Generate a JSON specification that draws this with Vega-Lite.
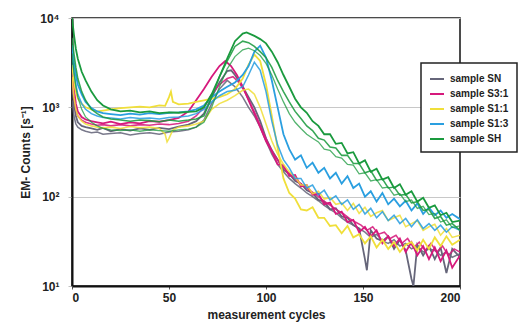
{
"$schema":"https://vega.github.io/schema/vega-lite/v6.json",
"width":388,"height":268,
"autosize":{"type":"none"},
"padding":{"left":72,"top":18,"right":72,"bottom":45},
"background":"white",
"config":{"view":{"stroke":"#111","strokeWidth":1.5},
"font":"Liberation Sans",
"axis":{"labelFont":"Liberation Sans","labelFontWeight":"bold","labelFontSize":12,"labelColor":"#222","titleFont":"Liberation Sans","titleFontWeight":"bold","titleFontSize":12,"titleColor":"#222","domainColor":"#111","domainWidth":2},
"legend":{"orient":"none","legendX":349,"legendY":45,"strokeColor":"#222","strokeWidth":1.5,"fillColor":"white","padding":8,"labelFont":"Liberation Sans","labelFontWeight":"bold","labelFontSize":10,"labelColor":"#222","symbolType":"stroke","symbolSize":196,"symbolStrokeWidth":2,"rowPadding":2,"labelOffset":5}},
"data":{"values":[
{"sample":"SN","rep":1,"cycle":0,"count":1800},{"sample":"SN","rep":1,"cycle":1,"count":1100},{"sample":"SN","rep":1,"cycle":2,"count":800},{"sample":"SN","rep":1,"cycle":3,"count":680},{"sample":"SN","rep":1,"cycle":5,"count":620},{"sample":"SN","rep":1,"cycle":7,"count":600},{"sample":"SN","rep":1,"cycle":10,"count":580},{"sample":"SN","rep":1,"cycle":13,"count":560},{"sample":"SN","rep":1,"cycle":16,"count":590},{"sample":"SN","rep":1,"cycle":20,"count":540},{"sample":"SN","rep":1,"cycle":25,"count":570},{"sample":"SN","rep":1,"cycle":30,"count":550},{"sample":"SN","rep":1,"cycle":35,"count":580},{"sample":"SN","rep":1,"cycle":40,"count":560},{"sample":"SN","rep":1,"cycle":45,"count":590},{"sample":"SN","rep":1,"cycle":50,"count":570},{"sample":"SN","rep":1,"cycle":55,"count":610},{"sample":"SN","rep":1,"cycle":60,"count":640},{"sample":"SN","rep":1,"cycle":64,"count":700},{"sample":"SN","rep":1,"cycle":68,"count":850},{"sample":"SN","rep":1,"cycle":72,"count":1300},{"sample":"SN","rep":1,"cycle":76,"count":1900},{"sample":"SN","rep":1,"cycle":80,"count":2550},{"sample":"SN","rep":1,"cycle":82,"count":2600},{"sample":"SN","rep":1,"cycle":84,"count":2300},{"sample":"SN","rep":1,"cycle":88,"count":1700},{"sample":"SN","rep":1,"cycle":91,"count":1300},{"sample":"SN","rep":1,"cycle":94,"count":1000},{"sample":"SN","rep":1,"cycle":97,"count":700},{"sample":"SN","rep":1,"cycle":100,"count":450},{"sample":"SN","rep":1,"cycle":103,"count":330},{"sample":"SN","rep":1,"cycle":106,"count":260},{"sample":"SN","rep":1,"cycle":109,"count":200},{"sample":"SN","rep":1,"cycle":112,"count":180},{"sample":"SN","rep":1,"cycle":115,"count":150},{"sample":"SN","rep":1,"cycle":118,"count":140},{"sample":"SN","rep":1,"cycle":121,"count":118},{"sample":"SN","rep":1,"cycle":124,"count":110},{"sample":"SN","rep":1,"cycle":127,"count":92},{"sample":"SN","rep":1,"cycle":130,"count":88},{"sample":"SN","rep":1,"cycle":133,"count":72},{"sample":"SN","rep":1,"cycle":136,"count":74},{"sample":"SN","rep":1,"cycle":139,"count":60},{"sample":"SN","rep":1,"cycle":142,"count":58},{"sample":"SN","rep":1,"cycle":145,"count":48},{"sample":"SN","rep":1,"cycle":148,"count":44},{"sample":"SN","rep":1,"cycle":151,"count":20},{"sample":"SN","rep":1,"cycle":152,"count":15},{"sample":"SN","rep":1,"cycle":154,"count":42},{"sample":"SN","rep":1,"cycle":157,"count":34},{"sample":"SN","rep":1,"cycle":160,"count":32},{"sample":"SN","rep":1,"cycle":163,"count":36},{"sample":"SN","rep":1,"cycle":166,"count":26},{"sample":"SN","rep":1,"cycle":169,"count":33},{"sample":"SN","rep":1,"cycle":172,"count":25},{"sample":"SN","rep":1,"cycle":175,"count":12},{"sample":"SN","rep":1,"cycle":176,"count":10},{"sample":"SN","rep":1,"cycle":178,"count":29},{"sample":"SN","rep":1,"cycle":181,"count":22},{"sample":"SN","rep":1,"cycle":184,"count":28},{"sample":"SN","rep":1,"cycle":187,"count":20},{"sample":"SN","rep":1,"cycle":190,"count":27},{"sample":"SN","rep":1,"cycle":193,"count":14},{"sample":"SN","rep":1,"cycle":196,"count":26},{"sample":"SN","rep":1,"cycle":200,"count":21},
{"sample":"SN","rep":2,"cycle":0,"count":1200},{"sample":"SN","rep":2,"cycle":1,"count":800},{"sample":"SN","rep":2,"cycle":2,"count":650},{"sample":"SN","rep":2,"cycle":3,"count":600},{"sample":"SN","rep":2,"cycle":5,"count":560},{"sample":"SN","rep":2,"cycle":7,"count":540},{"sample":"SN","rep":2,"cycle":10,"count":520},{"sample":"SN","rep":2,"cycle":13,"count":530},{"sample":"SN","rep":2,"cycle":16,"count":500},{"sample":"SN","rep":2,"cycle":20,"count":510},{"sample":"SN","rep":2,"cycle":25,"count":520},{"sample":"SN","rep":2,"cycle":30,"count":490},{"sample":"SN","rep":2,"cycle":35,"count":510},{"sample":"SN","rep":2,"cycle":40,"count":520},{"sample":"SN","rep":2,"cycle":45,"count":500},{"sample":"SN","rep":2,"cycle":50,"count":530},{"sample":"SN","rep":2,"cycle":55,"count":540},{"sample":"SN","rep":2,"cycle":60,"count":560},{"sample":"SN","rep":2,"cycle":64,"count":600},{"sample":"SN","rep":2,"cycle":68,"count":720},{"sample":"SN","rep":2,"cycle":72,"count":1100},{"sample":"SN","rep":2,"cycle":76,"count":1600},{"sample":"SN","rep":2,"cycle":80,"count":2000},{"sample":"SN","rep":2,"cycle":84,"count":1700},{"sample":"SN","rep":2,"cycle":88,"count":1300},{"sample":"SN","rep":2,"cycle":91,"count":1000},{"sample":"SN","rep":2,"cycle":94,"count":800},{"sample":"SN","rep":2,"cycle":97,"count":600},{"sample":"SN","rep":2,"cycle":100,"count":420},{"sample":"SN","rep":2,"cycle":103,"count":300},{"sample":"SN","rep":2,"cycle":106,"count":230},{"sample":"SN","rep":2,"cycle":109,"count":190},{"sample":"SN","rep":2,"cycle":112,"count":160},{"sample":"SN","rep":2,"cycle":115,"count":140},{"sample":"SN","rep":2,"cycle":118,"count":125},{"sample":"SN","rep":2,"cycle":121,"count":110},{"sample":"SN","rep":2,"cycle":124,"count":100},{"sample":"SN","rep":2,"cycle":127,"count":90},{"sample":"SN","rep":2,"cycle":130,"count":80},{"sample":"SN","rep":2,"cycle":133,"count":72},{"sample":"SN","rep":2,"cycle":136,"count":66},{"sample":"SN","rep":2,"cycle":139,"count":58},{"sample":"SN","rep":2,"cycle":142,"count":52},{"sample":"SN","rep":2,"cycle":145,"count":48},{"sample":"SN","rep":2,"cycle":148,"count":44},{"sample":"SN","rep":2,"cycle":151,"count":40},{"sample":"SN","rep":2,"cycle":154,"count":35},{"sample":"SN","rep":2,"cycle":157,"count":38},{"sample":"SN","rep":2,"cycle":160,"count":32},{"sample":"SN","rep":2,"cycle":163,"count":30},{"sample":"SN","rep":2,"cycle":166,"count":33},{"sample":"SN","rep":2,"cycle":169,"count":28},{"sample":"SN","rep":2,"cycle":172,"count":30},{"sample":"SN","rep":2,"cycle":175,"count":26},{"sample":"SN","rep":2,"cycle":178,"count":28},{"sample":"SN","rep":2,"cycle":181,"count":24},{"sample":"SN","rep":2,"cycle":184,"count":26},{"sample":"SN","rep":2,"cycle":187,"count":25},{"sample":"SN","rep":2,"cycle":190,"count":22},{"sample":"SN","rep":2,"cycle":193,"count":24},{"sample":"SN","rep":2,"cycle":196,"count":21},{"sample":"SN","rep":2,"cycle":200,"count":23},
{"sample":"S3:1","rep":1,"cycle":0,"count":2600},{"sample":"S3:1","rep":1,"cycle":1,"count":1600},{"sample":"S3:1","rep":1,"cycle":2,"count":1100},{"sample":"S3:1","rep":1,"cycle":3,"count":900},{"sample":"S3:1","rep":1,"cycle":5,"count":780},{"sample":"S3:1","rep":1,"cycle":7,"count":730},{"sample":"S3:1","rep":1,"cycle":10,"count":700},{"sample":"S3:1","rep":1,"cycle":13,"count":680},{"sample":"S3:1","rep":1,"cycle":16,"count":660},{"sample":"S3:1","rep":1,"cycle":20,"count":690},{"sample":"S3:1","rep":1,"cycle":25,"count":650},{"sample":"S3:1","rep":1,"cycle":30,"count":680},{"sample":"S3:1","rep":1,"cycle":35,"count":660},{"sample":"S3:1","rep":1,"cycle":40,"count":700},{"sample":"S3:1","rep":1,"cycle":45,"count":690},{"sample":"S3:1","rep":1,"cycle":50,"count":720},{"sample":"S3:1","rep":1,"cycle":55,"count":760},{"sample":"S3:1","rep":1,"cycle":60,"count":900},{"sample":"S3:1","rep":1,"cycle":64,"count":1200},{"sample":"S3:1","rep":1,"cycle":68,"count":1600},{"sample":"S3:1","rep":1,"cycle":72,"count":2200},{"sample":"S3:1","rep":1,"cycle":76,"count":2900},{"sample":"S3:1","rep":1,"cycle":79,"count":3300},{"sample":"S3:1","rep":1,"cycle":82,"count":2900},{"sample":"S3:1","rep":1,"cycle":85,"count":2300},{"sample":"S3:1","rep":1,"cycle":88,"count":1700},{"sample":"S3:1","rep":1,"cycle":91,"count":1200},{"sample":"S3:1","rep":1,"cycle":94,"count":850},{"sample":"S3:1","rep":1,"cycle":97,"count":600},{"sample":"S3:1","rep":1,"cycle":100,"count":420},{"sample":"S3:1","rep":1,"cycle":103,"count":320},{"sample":"S3:1","rep":1,"cycle":106,"count":230},{"sample":"S3:1","rep":1,"cycle":109,"count":225},{"sample":"S3:1","rep":1,"cycle":112,"count":170},{"sample":"S3:1","rep":1,"cycle":115,"count":175},{"sample":"S3:1","rep":1,"cycle":118,"count":130},{"sample":"S3:1","rep":1,"cycle":121,"count":135},{"sample":"S3:1","rep":1,"cycle":124,"count":105},{"sample":"S3:1","rep":1,"cycle":127,"count":108},{"sample":"S3:1","rep":1,"cycle":130,"count":82},{"sample":"S3:1","rep":1,"cycle":133,"count":86},{"sample":"S3:1","rep":1,"cycle":136,"count":64},{"sample":"S3:1","rep":1,"cycle":139,"count":68},{"sample":"S3:1","rep":1,"cycle":142,"count":52},{"sample":"S3:1","rep":1,"cycle":145,"count":55},{"sample":"S3:1","rep":1,"cycle":148,"count":40},{"sample":"S3:1","rep":1,"cycle":151,"count":46},{"sample":"S3:1","rep":1,"cycle":154,"count":36},{"sample":"S3:1","rep":1,"cycle":157,"count":42},{"sample":"S3:1","rep":1,"cycle":160,"count":30},{"sample":"S3:1","rep":1,"cycle":163,"count":36},{"sample":"S3:1","rep":1,"cycle":166,"count":28},{"sample":"S3:1","rep":1,"cycle":169,"count":34},{"sample":"S3:1","rep":1,"cycle":172,"count":24},{"sample":"S3:1","rep":1,"cycle":175,"count":31},{"sample":"S3:1","rep":1,"cycle":178,"count":22},{"sample":"S3:1","rep":1,"cycle":181,"count":28},{"sample":"S3:1","rep":1,"cycle":184,"count":20},{"sample":"S3:1","rep":1,"cycle":187,"count":27},{"sample":"S3:1","rep":1,"cycle":190,"count":19},{"sample":"S3:1","rep":1,"cycle":193,"count":25},{"sample":"S3:1","rep":1,"cycle":196,"count":16},{"sample":"S3:1","rep":1,"cycle":200,"count":22},
{"sample":"S3:1","rep":2,"cycle":0,"count":2000},{"sample":"S3:1","rep":2,"cycle":1,"count":1300},{"sample":"S3:1","rep":2,"cycle":2,"count":950},{"sample":"S3:1","rep":2,"cycle":3,"count":800},{"sample":"S3:1","rep":2,"cycle":5,"count":720},{"sample":"S3:1","rep":2,"cycle":7,"count":680},{"sample":"S3:1","rep":2,"cycle":10,"count":650},{"sample":"S3:1","rep":2,"cycle":13,"count":630},{"sample":"S3:1","rep":2,"cycle":16,"count":640},{"sample":"S3:1","rep":2,"cycle":20,"count":620},{"sample":"S3:1","rep":2,"cycle":25,"count":640},{"sample":"S3:1","rep":2,"cycle":30,"count":620},{"sample":"S3:1","rep":2,"cycle":35,"count":640},{"sample":"S3:1","rep":2,"cycle":40,"count":630},{"sample":"S3:1","rep":2,"cycle":45,"count":650},{"sample":"S3:1","rep":2,"cycle":50,"count":640},{"sample":"S3:1","rep":2,"cycle":55,"count":660},{"sample":"S3:1","rep":2,"cycle":60,"count":700},{"sample":"S3:1","rep":2,"cycle":64,"count":800},{"sample":"S3:1","rep":2,"cycle":68,"count":1000},{"sample":"S3:1","rep":2,"cycle":72,"count":1400},{"sample":"S3:1","rep":2,"cycle":76,"count":1800},{"sample":"S3:1","rep":2,"cycle":80,"count":2100},{"sample":"S3:1","rep":2,"cycle":83,"count":2200},{"sample":"S3:1","rep":2,"cycle":86,"count":1900},{"sample":"S3:1","rep":2,"cycle":89,"count":1500},{"sample":"S3:1","rep":2,"cycle":92,"count":1100},{"sample":"S3:1","rep":2,"cycle":95,"count":800},{"sample":"S3:1","rep":2,"cycle":98,"count":560},{"sample":"S3:1","rep":2,"cycle":101,"count":400},{"sample":"S3:1","rep":2,"cycle":104,"count":300},{"sample":"S3:1","rep":2,"cycle":107,"count":240},{"sample":"S3:1","rep":2,"cycle":110,"count":200},{"sample":"S3:1","rep":2,"cycle":113,"count":175},{"sample":"S3:1","rep":2,"cycle":116,"count":150},{"sample":"S3:1","rep":2,"cycle":119,"count":135},{"sample":"S3:1","rep":2,"cycle":122,"count":120},{"sample":"S3:1","rep":2,"cycle":125,"count":108},{"sample":"S3:1","rep":2,"cycle":128,"count":96},{"sample":"S3:1","rep":2,"cycle":131,"count":86},{"sample":"S3:1","rep":2,"cycle":134,"count":78},{"sample":"S3:1","rep":2,"cycle":137,"count":70},{"sample":"S3:1","rep":2,"cycle":140,"count":64},{"sample":"S3:1","rep":2,"cycle":143,"count":57},{"sample":"S3:1","rep":2,"cycle":146,"count":52},{"sample":"S3:1","rep":2,"cycle":149,"count":48},{"sample":"S3:1","rep":2,"cycle":152,"count":42},{"sample":"S3:1","rep":2,"cycle":155,"count":46},{"sample":"S3:1","rep":2,"cycle":158,"count":38},{"sample":"S3:1","rep":2,"cycle":161,"count":40},{"sample":"S3:1","rep":2,"cycle":164,"count":34},{"sample":"S3:1","rep":2,"cycle":167,"count":37},{"sample":"S3:1","rep":2,"cycle":170,"count":30},{"sample":"S3:1","rep":2,"cycle":173,"count":34},{"sample":"S3:1","rep":2,"cycle":176,"count":27},{"sample":"S3:1","rep":2,"cycle":179,"count":31},{"sample":"S3:1","rep":2,"cycle":182,"count":25},{"sample":"S3:1","rep":2,"cycle":185,"count":30},{"sample":"S3:1","rep":2,"cycle":188,"count":24},{"sample":"S3:1","rep":2,"cycle":191,"count":28},{"sample":"S3:1","rep":2,"cycle":194,"count":22},{"sample":"S3:1","rep":2,"cycle":197,"count":26},{"sample":"S3:1","rep":2,"cycle":200,"count":24},
{"sample":"S1:1","rep":1,"cycle":0,"count":3000},{"sample":"S1:1","rep":1,"cycle":1,"count":2000},{"sample":"S1:1","rep":1,"cycle":2,"count":1500},{"sample":"S1:1","rep":1,"cycle":3,"count":1250},{"sample":"S1:1","rep":1,"cycle":5,"count":1100},{"sample":"S1:1","rep":1,"cycle":7,"count":1000},{"sample":"S1:1","rep":1,"cycle":10,"count":950},{"sample":"S1:1","rep":1,"cycle":13,"count":900},{"sample":"S1:1","rep":1,"cycle":16,"count":920},{"sample":"S1:1","rep":1,"cycle":20,"count":950},{"sample":"S1:1","rep":1,"cycle":25,"count":980},{"sample":"S1:1","rep":1,"cycle":30,"count":1000},{"sample":"S1:1","rep":1,"cycle":35,"count":1020},{"sample":"S1:1","rep":1,"cycle":40,"count":1000},{"sample":"S1:1","rep":1,"cycle":45,"count":1050},{"sample":"S1:1","rep":1,"cycle":48,"count":1040},{"sample":"S1:1","rep":1,"cycle":50,"count":1300},{"sample":"S1:1","rep":1,"cycle":51,"count":1500},{"sample":"S1:1","rep":1,"cycle":52,"count":1150},{"sample":"S1:1","rep":1,"cycle":55,"count":1080},{"sample":"S1:1","rep":1,"cycle":60,"count":1100},{"sample":"S1:1","rep":1,"cycle":64,"count":1150},{"sample":"S1:1","rep":1,"cycle":68,"count":1200},{"sample":"S1:1","rep":1,"cycle":72,"count":1250},{"sample":"S1:1","rep":1,"cycle":76,"count":1300},{"sample":"S1:1","rep":1,"cycle":80,"count":1400},{"sample":"S1:1","rep":1,"cycle":84,"count":1600},{"sample":"S1:1","rep":1,"cycle":88,"count":2100},{"sample":"S1:1","rep":1,"cycle":91,"count":3000},{"sample":"S1:1","rep":1,"cycle":94,"count":3900},{"sample":"S1:1","rep":1,"cycle":97,"count":3300},{"sample":"S1:1","rep":1,"cycle":100,"count":1800},{"sample":"S1:1","rep":1,"cycle":103,"count":800},{"sample":"S1:1","rep":1,"cycle":106,"count":350},{"sample":"S1:1","rep":1,"cycle":109,"count":160},{"sample":"S1:1","rep":1,"cycle":112,"count":110},{"sample":"S1:1","rep":1,"cycle":115,"count":95},{"sample":"S1:1","rep":1,"cycle":118,"count":72},{"sample":"S1:1","rep":1,"cycle":121,"count":70},{"sample":"S1:1","rep":1,"cycle":124,"count":76},{"sample":"S1:1","rep":1,"cycle":127,"count":58},{"sample":"S1:1","rep":1,"cycle":130,"count":58},{"sample":"S1:1","rep":1,"cycle":133,"count":47},{"sample":"S1:1","rep":1,"cycle":136,"count":48},{"sample":"S1:1","rep":1,"cycle":139,"count":39},{"sample":"S1:1","rep":1,"cycle":142,"count":47},{"sample":"S1:1","rep":1,"cycle":145,"count":35},{"sample":"S1:1","rep":1,"cycle":148,"count":38},{"sample":"S1:1","rep":1,"cycle":151,"count":30},{"sample":"S1:1","rep":1,"cycle":154,"count":36},{"sample":"S1:1","rep":1,"cycle":157,"count":27},{"sample":"S1:1","rep":1,"cycle":160,"count":33},{"sample":"S1:1","rep":1,"cycle":163,"count":26},{"sample":"S1:1","rep":1,"cycle":166,"count":31},{"sample":"S1:1","rep":1,"cycle":169,"count":24},{"sample":"S1:1","rep":1,"cycle":172,"count":29},{"sample":"S1:1","rep":1,"cycle":175,"count":31},{"sample":"S1:1","rep":1,"cycle":178,"count":25},{"sample":"S1:1","rep":1,"cycle":181,"count":33},{"sample":"S1:1","rep":1,"cycle":184,"count":26},{"sample":"S1:1","rep":1,"cycle":187,"count":35},{"sample":"S1:1","rep":1,"cycle":190,"count":28},{"sample":"S1:1","rep":1,"cycle":193,"count":36},{"sample":"S1:1","rep":1,"cycle":196,"count":29},{"sample":"S1:1","rep":1,"cycle":200,"count":33},
{"sample":"S1:1","rep":2,"cycle":0,"count":2200},{"sample":"S1:1","rep":2,"cycle":1,"count":1300},{"sample":"S1:1","rep":2,"cycle":2,"count":950},{"sample":"S1:1","rep":2,"cycle":3,"count":800},{"sample":"S1:1","rep":2,"cycle":5,"count":700},{"sample":"S1:1","rep":2,"cycle":7,"count":650},{"sample":"S1:1","rep":2,"cycle":10,"count":620},{"sample":"S1:1","rep":2,"cycle":13,"count":600},{"sample":"S1:1","rep":2,"cycle":16,"count":590},{"sample":"S1:1","rep":2,"cycle":20,"count":600},{"sample":"S1:1","rep":2,"cycle":25,"count":580},{"sample":"S1:1","rep":2,"cycle":30,"count":610},{"sample":"S1:1","rep":2,"cycle":35,"count":590},{"sample":"S1:1","rep":2,"cycle":40,"count":600},{"sample":"S1:1","rep":2,"cycle":45,"count":580},{"sample":"S1:1","rep":2,"cycle":48,"count":500},{"sample":"S1:1","rep":2,"cycle":49,"count":410},{"sample":"S1:1","rep":2,"cycle":50,"count":450},{"sample":"S1:1","rep":2,"cycle":52,"count":560},{"sample":"S1:1","rep":2,"cycle":55,"count":600},{"sample":"S1:1","rep":2,"cycle":60,"count":620},{"sample":"S1:1","rep":2,"cycle":64,"count":650},{"sample":"S1:1","rep":2,"cycle":68,"count":700},{"sample":"S1:1","rep":2,"cycle":72,"count":950},{"sample":"S1:1","rep":2,"cycle":76,"count":1100},{"sample":"S1:1","rep":2,"cycle":80,"count":1200},{"sample":"S1:1","rep":2,"cycle":84,"count":1350},{"sample":"S1:1","rep":2,"cycle":88,"count":1550},{"sample":"S1:1","rep":2,"cycle":91,"count":1600},{"sample":"S1:1","rep":2,"cycle":94,"count":1400},{"sample":"S1:1","rep":2,"cycle":97,"count":1000},{"sample":"S1:1","rep":2,"cycle":100,"count":650},{"sample":"S1:1","rep":2,"cycle":103,"count":420},{"sample":"S1:1","rep":2,"cycle":106,"count":300},{"sample":"S1:1","rep":2,"cycle":109,"count":230},{"sample":"S1:1","rep":2,"cycle":112,"count":190},{"sample":"S1:1","rep":2,"cycle":115,"count":165},{"sample":"S1:1","rep":2,"cycle":118,"count":135},{"sample":"S1:1","rep":2,"cycle":121,"count":135},{"sample":"S1:1","rep":2,"cycle":124,"count":108},{"sample":"S1:1","rep":2,"cycle":127,"count":115},{"sample":"S1:1","rep":2,"cycle":130,"count":94},{"sample":"S1:1","rep":2,"cycle":133,"count":98},{"sample":"S1:1","rep":2,"cycle":136,"count":82},{"sample":"S1:1","rep":2,"cycle":139,"count":85},{"sample":"S1:1","rep":2,"cycle":142,"count":70},{"sample":"S1:1","rep":2,"cycle":145,"count":84},{"sample":"S1:1","rep":2,"cycle":148,"count":65},{"sample":"S1:1","rep":2,"cycle":151,"count":76},{"sample":"S1:1","rep":2,"cycle":154,"count":60},{"sample":"S1:1","rep":2,"cycle":157,"count":66},{"sample":"S1:1","rep":2,"cycle":160,"count":70},{"sample":"S1:1","rep":2,"cycle":163,"count":54},{"sample":"S1:1","rep":2,"cycle":166,"count":58},{"sample":"S1:1","rep":2,"cycle":169,"count":62},{"sample":"S1:1","rep":2,"cycle":172,"count":46},{"sample":"S1:1","rep":2,"cycle":175,"count":50},{"sample":"S1:1","rep":2,"cycle":178,"count":54},{"sample":"S1:1","rep":2,"cycle":181,"count":42},{"sample":"S1:1","rep":2,"cycle":184,"count":46},{"sample":"S1:1","rep":2,"cycle":187,"count":49},{"sample":"S1:1","rep":2,"cycle":190,"count":37},{"sample":"S1:1","rep":2,"cycle":193,"count":44},{"sample":"S1:1","rep":2,"cycle":196,"count":35},{"sample":"S1:1","rep":2,"cycle":200,"count":37},
{"sample":"S1:3","rep":1,"cycle":0,"count":5000},{"sample":"S1:3","rep":1,"cycle":1,"count":3200},{"sample":"S1:3","rep":1,"cycle":2,"count":2300},{"sample":"S1:3","rep":1,"cycle":3,"count":1800},{"sample":"S1:3","rep":1,"cycle":5,"count":1400},{"sample":"S1:3","rep":1,"cycle":7,"count":1150},{"sample":"S1:3","rep":1,"cycle":10,"count":980},{"sample":"S1:3","rep":1,"cycle":13,"count":900},{"sample":"S1:3","rep":1,"cycle":16,"count":860},{"sample":"S1:3","rep":1,"cycle":20,"count":840},{"sample":"S1:3","rep":1,"cycle":25,"count":820},{"sample":"S1:3","rep":1,"cycle":30,"count":850},{"sample":"S1:3","rep":1,"cycle":35,"count":830},{"sample":"S1:3","rep":1,"cycle":40,"count":860},{"sample":"S1:3","rep":1,"cycle":45,"count":840},{"sample":"S1:3","rep":1,"cycle":50,"count":870},{"sample":"S1:3","rep":1,"cycle":55,"count":880},{"sample":"S1:3","rep":1,"cycle":60,"count":900},{"sample":"S1:3","rep":1,"cycle":64,"count":950},{"sample":"S1:3","rep":1,"cycle":68,"count":1050},{"sample":"S1:3","rep":1,"cycle":72,"count":1300},{"sample":"S1:3","rep":1,"cycle":76,"count":1500},{"sample":"S1:3","rep":1,"cycle":80,"count":1700},{"sample":"S1:3","rep":1,"cycle":84,"count":1900},{"sample":"S1:3","rep":1,"cycle":88,"count":2300},{"sample":"S1:3","rep":1,"cycle":91,"count":2900},{"sample":"S1:3","rep":1,"cycle":94,"count":4200},{"sample":"S1:3","rep":1,"cycle":97,"count":4900},{"sample":"S1:3","rep":1,"cycle":100,"count":3600},{"sample":"S1:3","rep":1,"cycle":103,"count":2000},{"sample":"S1:3","rep":1,"cycle":106,"count":1000},{"sample":"S1:3","rep":1,"cycle":109,"count":500},{"sample":"S1:3","rep":1,"cycle":112,"count":340},{"sample":"S1:3","rep":1,"cycle":115,"count":260},{"sample":"S1:3","rep":1,"cycle":118,"count":290},{"sample":"S1:3","rep":1,"cycle":121,"count":210},{"sample":"S1:3","rep":1,"cycle":124,"count":240},{"sample":"S1:3","rep":1,"cycle":127,"count":185},{"sample":"S1:3","rep":1,"cycle":130,"count":210},{"sample":"S1:3","rep":1,"cycle":133,"count":160},{"sample":"S1:3","rep":1,"cycle":136,"count":185},{"sample":"S1:3","rep":1,"cycle":139,"count":140},{"sample":"S1:3","rep":1,"cycle":142,"count":170},{"sample":"S1:3","rep":1,"cycle":145,"count":125},{"sample":"S1:3","rep":1,"cycle":148,"count":140},{"sample":"S1:3","rep":1,"cycle":151,"count":100},{"sample":"S1:3","rep":1,"cycle":154,"count":115},{"sample":"S1:3","rep":1,"cycle":157,"count":88},{"sample":"S1:3","rep":1,"cycle":160,"count":110},{"sample":"S1:3","rep":1,"cycle":163,"count":82},{"sample":"S1:3","rep":1,"cycle":166,"count":95},{"sample":"S1:3","rep":1,"cycle":169,"count":78},{"sample":"S1:3","rep":1,"cycle":172,"count":90},{"sample":"S1:3","rep":1,"cycle":175,"count":70},{"sample":"S1:3","rep":1,"cycle":178,"count":84},{"sample":"S1:3","rep":1,"cycle":181,"count":64},{"sample":"S1:3","rep":1,"cycle":184,"count":76},{"sample":"S1:3","rep":1,"cycle":187,"count":62},{"sample":"S1:3","rep":1,"cycle":190,"count":70},{"sample":"S1:3","rep":1,"cycle":193,"count":58},{"sample":"S1:3","rep":1,"cycle":196,"count":64},{"sample":"S1:3","rep":1,"cycle":200,"count":56},
{"sample":"S1:3","rep":2,"cycle":0,"count":4000},{"sample":"S1:3","rep":2,"cycle":1,"count":2500},{"sample":"S1:3","rep":2,"cycle":2,"count":1800},{"sample":"S1:3","rep":2,"cycle":3,"count":1400},{"sample":"S1:3","rep":2,"cycle":5,"count":1100},{"sample":"S1:3","rep":2,"cycle":7,"count":950},{"sample":"S1:3","rep":2,"cycle":10,"count":850},{"sample":"S1:3","rep":2,"cycle":13,"count":800},{"sample":"S1:3","rep":2,"cycle":16,"count":770},{"sample":"S1:3","rep":2,"cycle":20,"count":760},{"sample":"S1:3","rep":2,"cycle":25,"count":740},{"sample":"S1:3","rep":2,"cycle":30,"count":770},{"sample":"S1:3","rep":2,"cycle":35,"count":750},{"sample":"S1:3","rep":2,"cycle":40,"count":760},{"sample":"S1:3","rep":2,"cycle":45,"count":740},{"sample":"S1:3","rep":2,"cycle":50,"count":770},{"sample":"S1:3","rep":2,"cycle":55,"count":780},{"sample":"S1:3","rep":2,"cycle":60,"count":800},{"sample":"S1:3","rep":2,"cycle":64,"count":850},{"sample":"S1:3","rep":2,"cycle":68,"count":950},{"sample":"S1:3","rep":2,"cycle":72,"count":1150},{"sample":"S1:3","rep":2,"cycle":76,"count":1350},{"sample":"S1:3","rep":2,"cycle":80,"count":1500},{"sample":"S1:3","rep":2,"cycle":84,"count":1550},{"sample":"S1:3","rep":2,"cycle":88,"count":1700},{"sample":"S1:3","rep":2,"cycle":91,"count":2300},{"sample":"S1:3","rep":2,"cycle":94,"count":3200},{"sample":"S1:3","rep":2,"cycle":97,"count":2600},{"sample":"S1:3","rep":2,"cycle":100,"count":1500},{"sample":"S1:3","rep":2,"cycle":103,"count":700},{"sample":"S1:3","rep":2,"cycle":106,"count":380},{"sample":"S1:3","rep":2,"cycle":109,"count":260},{"sample":"S1:3","rep":2,"cycle":112,"count":210},{"sample":"S1:3","rep":2,"cycle":115,"count":160},{"sample":"S1:3","rep":2,"cycle":118,"count":160},{"sample":"S1:3","rep":2,"cycle":121,"count":125},{"sample":"S1:3","rep":2,"cycle":124,"count":135},{"sample":"S1:3","rep":2,"cycle":127,"count":105},{"sample":"S1:3","rep":2,"cycle":130,"count":118},{"sample":"S1:3","rep":2,"cycle":133,"count":92},{"sample":"S1:3","rep":2,"cycle":136,"count":102},{"sample":"S1:3","rep":2,"cycle":139,"count":82},{"sample":"S1:3","rep":2,"cycle":142,"count":92},{"sample":"S1:3","rep":2,"cycle":145,"count":72},{"sample":"S1:3","rep":2,"cycle":148,"count":82},{"sample":"S1:3","rep":2,"cycle":151,"count":64},{"sample":"S1:3","rep":2,"cycle":154,"count":74},{"sample":"S1:3","rep":2,"cycle":157,"count":58},{"sample":"S1:3","rep":2,"cycle":160,"count":68},{"sample":"S1:3","rep":2,"cycle":163,"count":54},{"sample":"S1:3","rep":2,"cycle":166,"count":62},{"sample":"S1:3","rep":2,"cycle":169,"count":50},{"sample":"S1:3","rep":2,"cycle":172,"count":57},{"sample":"S1:3","rep":2,"cycle":175,"count":46},{"sample":"S1:3","rep":2,"cycle":178,"count":55},{"sample":"S1:3","rep":2,"cycle":181,"count":44},{"sample":"S1:3","rep":2,"cycle":184,"count":50},{"sample":"S1:3","rep":2,"cycle":187,"count":42},{"sample":"S1:3","rep":2,"cycle":190,"count":48},{"sample":"S1:3","rep":2,"cycle":193,"count":40},{"sample":"S1:3","rep":2,"cycle":196,"count":46},{"sample":"S1:3","rep":2,"cycle":200,"count":42},
{"sample":"SH","rep":3,"cycle":0,"count":4000},{"sample":"SH","rep":3,"cycle":1,"count":2500},{"sample":"SH","rep":3,"cycle":2,"count":1700},{"sample":"SH","rep":3,"cycle":3,"count":1300},{"sample":"SH","rep":3,"cycle":5,"count":950},{"sample":"SH","rep":3,"cycle":7,"count":780},{"sample":"SH","rep":3,"cycle":10,"count":680},{"sample":"SH","rep":3,"cycle":13,"count":620},{"sample":"SH","rep":3,"cycle":16,"count":580},{"sample":"SH","rep":3,"cycle":20,"count":560},{"sample":"SH","rep":3,"cycle":25,"count":550},{"sample":"SH","rep":3,"cycle":30,"count":560},{"sample":"SH","rep":3,"cycle":35,"count":540},{"sample":"SH","rep":3,"cycle":40,"count":560},{"sample":"SH","rep":3,"cycle":45,"count":550},{"sample":"SH","rep":3,"cycle":50,"count":540},{"sample":"SH","rep":3,"cycle":55,"count":560},{"sample":"SH","rep":3,"cycle":60,"count":570},{"sample":"SH","rep":3,"cycle":64,"count":600},{"sample":"SH","rep":3,"cycle":68,"count":680},{"sample":"SH","rep":3,"cycle":72,"count":1000},{"sample":"SH","rep":3,"cycle":76,"count":1700},{"sample":"SH","rep":3,"cycle":80,"count":2700},{"sample":"SH","rep":3,"cycle":84,"count":3700},{"sample":"SH","rep":3,"cycle":88,"count":4400},{"sample":"SH","rep":3,"cycle":91,"count":4600},{"sample":"SH","rep":3,"cycle":94,"count":4300},{"sample":"SH","rep":3,"cycle":97,"count":3800},{"sample":"SH","rep":3,"cycle":100,"count":3100},{"sample":"SH","rep":3,"cycle":103,"count":2300},{"sample":"SH","rep":3,"cycle":106,"count":1600},{"sample":"SH","rep":3,"cycle":109,"count":1150},{"sample":"SH","rep":3,"cycle":112,"count":850},{"sample":"SH","rep":3,"cycle":115,"count":680},{"sample":"SH","rep":3,"cycle":118,"count":580},{"sample":"SH","rep":3,"cycle":121,"count":500},{"sample":"SH","rep":3,"cycle":124,"count":450},{"sample":"SH","rep":3,"cycle":127,"count":410},{"sample":"SH","rep":3,"cycle":130,"count":340},{"sample":"SH","rep":3,"cycle":133,"count":330},{"sample":"SH","rep":3,"cycle":136,"count":280},{"sample":"SH","rep":3,"cycle":139,"count":270},{"sample":"SH","rep":3,"cycle":142,"count":230},{"sample":"SH","rep":3,"cycle":145,"count":225},{"sample":"SH","rep":3,"cycle":148,"count":180},{"sample":"SH","rep":3,"cycle":151,"count":185},{"sample":"SH","rep":3,"cycle":154,"count":150},{"sample":"SH","rep":3,"cycle":157,"count":155},{"sample":"SH","rep":3,"cycle":160,"count":125},{"sample":"SH","rep":3,"cycle":163,"count":128},{"sample":"SH","rep":3,"cycle":166,"count":104},{"sample":"SH","rep":3,"cycle":169,"count":108},{"sample":"SH","rep":3,"cycle":172,"count":88},{"sample":"SH","rep":3,"cycle":175,"count":92},{"sample":"SH","rep":3,"cycle":178,"count":74},{"sample":"SH","rep":3,"cycle":181,"count":78},{"sample":"SH","rep":3,"cycle":184,"count":63},{"sample":"SH","rep":3,"cycle":187,"count":65},{"sample":"SH","rep":3,"cycle":190,"count":52},{"sample":"SH","rep":3,"cycle":193,"count":55},{"sample":"SH","rep":3,"cycle":196,"count":45},{"sample":"SH","rep":3,"cycle":200,"count":47},
{"sample":"SH","rep":2,"cycle":0,"count":6000},{"sample":"SH","rep":2,"cycle":1,"count":4000},{"sample":"SH","rep":2,"cycle":2,"count":2800},{"sample":"SH","rep":2,"cycle":3,"count":2100},{"sample":"SH","rep":2,"cycle":5,"count":1500},{"sample":"SH","rep":2,"cycle":7,"count":1200},{"sample":"SH","rep":2,"cycle":10,"count":950},{"sample":"SH","rep":2,"cycle":13,"count":850},{"sample":"SH","rep":2,"cycle":16,"count":780},{"sample":"SH","rep":2,"cycle":20,"count":740},{"sample":"SH","rep":2,"cycle":25,"count":720},{"sample":"SH","rep":2,"cycle":30,"count":700},{"sample":"SH","rep":2,"cycle":35,"count":720},{"sample":"SH","rep":2,"cycle":40,"count":710},{"sample":"SH","rep":2,"cycle":45,"count":690},{"sample":"SH","rep":2,"cycle":50,"count":720},{"sample":"SH","rep":2,"cycle":55,"count":700},{"sample":"SH","rep":2,"cycle":60,"count":720},{"sample":"SH","rep":2,"cycle":64,"count":740},{"sample":"SH","rep":2,"cycle":68,"count":800},{"sample":"SH","rep":2,"cycle":72,"count":1300},{"sample":"SH","rep":2,"cycle":76,"count":2200},{"sample":"SH","rep":2,"cycle":80,"count":3300},{"sample":"SH","rep":2,"cycle":84,"count":4800},{"sample":"SH","rep":2,"cycle":88,"count":5500},{"sample":"SH","rep":2,"cycle":91,"count":5300},{"sample":"SH","rep":2,"cycle":94,"count":4800},{"sample":"SH","rep":2,"cycle":97,"count":4200},{"sample":"SH","rep":2,"cycle":100,"count":3600},{"sample":"SH","rep":2,"cycle":103,"count":2800},{"sample":"SH","rep":2,"cycle":106,"count":2000},{"sample":"SH","rep":2,"cycle":109,"count":1500},{"sample":"SH","rep":2,"cycle":112,"count":1150},{"sample":"SH","rep":2,"cycle":115,"count":900},{"sample":"SH","rep":2,"cycle":118,"count":750},{"sample":"SH","rep":2,"cycle":121,"count":620},{"sample":"SH","rep":2,"cycle":124,"count":550},{"sample":"SH","rep":2,"cycle":127,"count":450},{"sample":"SH","rep":2,"cycle":130,"count":430},{"sample":"SH","rep":2,"cycle":133,"count":360},{"sample":"SH","rep":2,"cycle":136,"count":350},{"sample":"SH","rep":2,"cycle":139,"count":290},{"sample":"SH","rep":2,"cycle":142,"count":290},{"sample":"SH","rep":2,"cycle":145,"count":235},{"sample":"SH","rep":2,"cycle":148,"count":235},{"sample":"SH","rep":2,"cycle":151,"count":185},{"sample":"SH","rep":2,"cycle":154,"count":195},{"sample":"SH","rep":2,"cycle":157,"count":152},{"sample":"SH","rep":2,"cycle":160,"count":158},{"sample":"SH","rep":2,"cycle":163,"count":125},{"sample":"SH","rep":2,"cycle":166,"count":128},{"sample":"SH","rep":2,"cycle":169,"count":104},{"sample":"SH","rep":2,"cycle":172,"count":106},{"sample":"SH","rep":2,"cycle":175,"count":85},{"sample":"SH","rep":2,"cycle":178,"count":88},{"sample":"SH","rep":2,"cycle":181,"count":70},{"sample":"SH","rep":2,"cycle":184,"count":72},{"sample":"SH","rep":2,"cycle":187,"count":57},{"sample":"SH","rep":2,"cycle":190,"count":60},{"sample":"SH","rep":2,"cycle":193,"count":48},{"sample":"SH","rep":2,"cycle":196,"count":50},{"sample":"SH","rep":2,"cycle":200,"count":42},
{"sample":"SH","rep":1,"cycle":0,"count":10000},{"sample":"SH","rep":1,"cycle":1,"count":6500},{"sample":"SH","rep":1,"cycle":2,"count":4500},{"sample":"SH","rep":1,"cycle":3,"count":3500},{"sample":"SH","rep":1,"cycle":5,"count":2500},{"sample":"SH","rep":1,"cycle":7,"count":2000},{"sample":"SH","rep":1,"cycle":10,"count":1500},{"sample":"SH","rep":1,"cycle":13,"count":1200},{"sample":"SH","rep":1,"cycle":16,"count":1050},{"sample":"SH","rep":1,"cycle":20,"count":950},{"sample":"SH","rep":1,"cycle":25,"count":900},{"sample":"SH","rep":1,"cycle":30,"count":920},{"sample":"SH","rep":1,"cycle":35,"count":880},{"sample":"SH","rep":1,"cycle":40,"count":900},{"sample":"SH","rep":1,"cycle":45,"count":860},{"sample":"SH","rep":1,"cycle":50,"count":880},{"sample":"SH","rep":1,"cycle":55,"count":870},{"sample":"SH","rep":1,"cycle":60,"count":890},{"sample":"SH","rep":1,"cycle":64,"count":900},{"sample":"SH","rep":1,"cycle":68,"count":1000},{"sample":"SH","rep":1,"cycle":72,"count":1400},{"sample":"SH","rep":1,"cycle":76,"count":2200},{"sample":"SH","rep":1,"cycle":80,"count":3500},{"sample":"SH","rep":1,"cycle":84,"count":5500},{"sample":"SH","rep":1,"cycle":88,"count":6700},{"sample":"SH","rep":1,"cycle":90,"count":6900},{"sample":"SH","rep":1,"cycle":94,"count":6300},{"sample":"SH","rep":1,"cycle":97,"count":5800},{"sample":"SH","rep":1,"cycle":100,"count":5200},{"sample":"SH","rep":1,"cycle":103,"count":4200},{"sample":"SH","rep":1,"cycle":106,"count":3200},{"sample":"SH","rep":1,"cycle":109,"count":2300},{"sample":"SH","rep":1,"cycle":112,"count":1700},{"sample":"SH","rep":1,"cycle":115,"count":1250},{"sample":"SH","rep":1,"cycle":118,"count":1000},{"sample":"SH","rep":1,"cycle":121,"count":870},{"sample":"SH","rep":1,"cycle":124,"count":700},{"sample":"SH","rep":1,"cycle":127,"count":620},{"sample":"SH","rep":1,"cycle":130,"count":500},{"sample":"SH","rep":1,"cycle":133,"count":500},{"sample":"SH","rep":1,"cycle":136,"count":390},{"sample":"SH","rep":1,"cycle":139,"count":400},{"sample":"SH","rep":1,"cycle":142,"count":305},{"sample":"SH","rep":1,"cycle":145,"count":315},{"sample":"SH","rep":1,"cycle":148,"count":235},{"sample":"SH","rep":1,"cycle":151,"count":255},{"sample":"SH","rep":1,"cycle":154,"count":190},{"sample":"SH","rep":1,"cycle":157,"count":205},{"sample":"SH","rep":1,"cycle":160,"count":155},{"sample":"SH","rep":1,"cycle":163,"count":165},{"sample":"SH","rep":1,"cycle":166,"count":125},{"sample":"SH","rep":1,"cycle":169,"count":138},{"sample":"SH","rep":1,"cycle":172,"count":105},{"sample":"SH","rep":1,"cycle":175,"count":115},{"sample":"SH","rep":1,"cycle":178,"count":88},{"sample":"SH","rep":1,"cycle":181,"count":97},{"sample":"SH","rep":1,"cycle":184,"count":75},{"sample":"SH","rep":1,"cycle":187,"count":80},{"sample":"SH","rep":1,"cycle":190,"count":62},{"sample":"SH","rep":1,"cycle":193,"count":66},{"sample":"SH","rep":1,"cycle":196,"count":52},{"sample":"SH","rep":1,"cycle":200,"count":54}
]},
"mark":{"type":"line","clip":true},
"encoding":{
"x":{"field":"cycle","type":"quantitative","scale":{"domain":[0,200],"nice":false},"axis":{"values":[0,50,100,150,200],"title":"measurement cycles","grid":false,"tickSize":3,"tickColor":"#555","labelPadding":3,"titlePadding":6}},
"y":{"field":"count","type":"quantitative","scale":{"type":"log","domain":[10,10000],"nice":false},"axis":{"values":[10,100,1000,10000],"labelExpr":"datum.value==10?'10¹':datum.value==100?'10²':datum.value==1000?'10³':'10⁴'","title":"EM- Counts [s⁻¹]","grid":true,"gridColor":"#c8c8c8","gridWidth":1,"tickColor":"#c0c0c0","tickSize":4,"labelPadding":9,"titlePadding":7}},
"color":{"field":"sample","type":"nominal","scale":{"domain":["SN","S3:1","S1:1","S1:3","SH"],"range":["#66667a","#d6197c","#f0df3a","#2a9fe0","#1a9a3e"]},"legend":{"title":null,"labelExpr":"'sample ' + datum.label"}},
"opacity":{"field":"rep","type":"ordinal","scale":{"domain":[1,2,3],"range":[1,0.75,0.5]},"legend":null},
"strokeWidth":{"field":"rep","type":"ordinal","scale":{"domain":[1,2,3],"range":[1.8,1.3,1.1]},"legend":null}
}
}
